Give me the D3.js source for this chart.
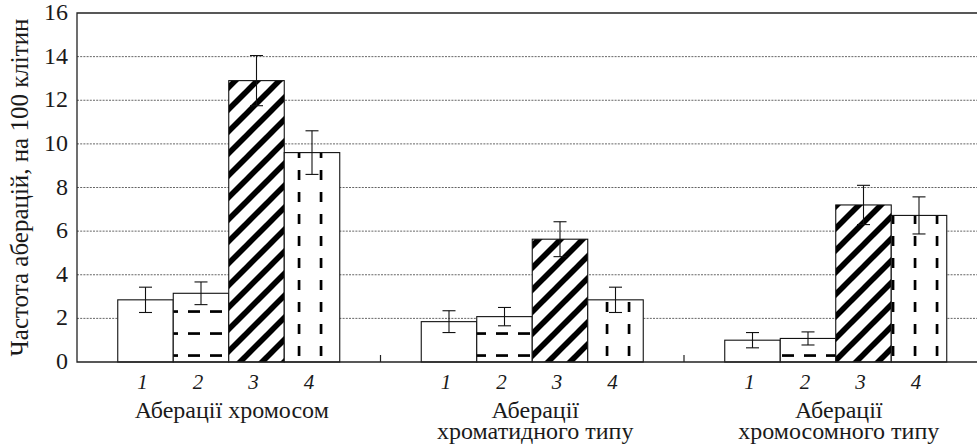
<!DOCTYPE html>
<html>
<head>
<meta charset="utf-8">
<script src="https://cdn.jsdelivr.net/npm/d3@7"></script>
</head>
<body style="margin:0">
<svg id="chart" width="977" height="445"></svg>
<script>
// chart data
const groupLabels = [["Аберації хромосом"], ["Аберації", "хроматидного типу"], ["Аберації", "хромосомного типу"]];
const seriesKeys = ["1", "2", "3", "4"];
const means = [
	[2.85, 3.15, 12.9, 9.6],
	[1.85, 2.08, 5.63, 2.85],
	[1.0, 1.08, 7.2, 6.72]
];
const errors = [
	[0.58, 0.52, 1.15, 1.0],
	[0.5, 0.42, 0.8, 0.58],
	[0.35, 0.3, 0.9, 0.85]
];
const yTicks = [0, 2, 4, 6, 8, 10, 12, 14, 16];
const yTitle = "Частота аберацій, на 100 клітин";

const plotLeft = 77, plotTop = 13, plotBottom = 362, bandW = 303.5;
const ink = "#1a1a1a";
const svg = d3.select("#chart");

const y = d3.scaleLinear().domain([0, 16]).range([plotBottom, plotTop]);
const x0 = d3.scaleBand()
	.domain(d3.range(groupLabels.length))
	.range([plotLeft, plotLeft + bandW * groupLabels.length]);
const x1 = d3.scaleBand()
	.domain(seriesKeys)
	.range([40.75, bandW - 40.75]);

// fill patterns (user space, so the phase is shared by all bars)
const defs = svg.append("defs");

let pat = defs.append("pattern").attr("id", "hdash")
	.attr("patternUnits", "userSpaceOnUse")
	.attr("width", 22).attr("height", 22);
pat.append("rect").attr("x", 12).attr("y", 2.2).attr("width", 12).attr("height", 2.7).attr("fill", "#000");
pat.append("rect").attr("x", -10).attr("y", 2.2).attr("width", 12).attr("height", 2.7).attr("fill", "#000");

pat = defs.append("pattern").attr("id", "diag")
	.attr("patternUnits", "userSpaceOnUse")
	.attr("x", 8)
	.attr("width", 22).attr("height", 22);
[[-11, 11, 11, -11], [0, 22, 22, 0], [11, 33, 33, 11]].forEach(l => {
	pat.append("line")
		.attr("x1", l[0]).attr("y1", l[1]).attr("x2", l[2]).attr("y2", l[3])
		.attr("stroke", "#000").attr("stroke-width", 5.6);
});

pat = defs.append("pattern").attr("id", "vdash")
	.attr("patternUnits", "userSpaceOnUse")
	.attr("width", 22).attr("height", 22);
pat.append("rect").attr("x", 11.7).attr("y", 16).attr("width", 2.7).attr("height", 10).attr("fill", "#000");
pat.append("rect").attr("x", 11.7).attr("y", -6).attr("width", 2.7).attr("height", 10).attr("fill", "#000");

const fills = ["#fff", "url(#hdash)", "url(#diag)", "url(#vdash)"];

// dotted grid
svg.append("g")
	.selectAll("line")
	.data(yTicks.filter(d => d > 0 && d < 16))
	.join("line")
	.attr("x1", plotLeft).attr("x2", 977)
	.attr("y1", d => y(d)).attr("y2", d => y(d))
	.attr("stroke", "#666")
	.attr("stroke-width", 1)
	.attr("stroke-dasharray", "2,1.2");

// bars
svg.append("g")
	.selectAll("g")
	.data(means)
	.join("g")
	.each(function(vals, gi) {
		const g = d3.select(this);
		vals.forEach((v, si) => {
			const bx = x0(gi) + x1(seriesKeys[si]);
			g.append("rect")
				.attr("x", bx).attr("y", y(v))
				.attr("width", x1.bandwidth()).attr("height", y(0) - y(v))
				.attr("fill", "#fff");
			if (si > 0) {
				g.append("rect")
					.attr("x", bx).attr("y", y(v))
					.attr("width", x1.bandwidth()).attr("height", y(0) - y(v))
					.attr("fill", fills[si]);
			}
			g.append("rect")
				.attr("x", bx).attr("y", y(v))
				.attr("width", x1.bandwidth()).attr("height", y(0) - y(v))
				.attr("fill", "none")
				.attr("stroke", "#111")
				.attr("stroke-width", 1.1);

			// error bar
			const cx = bx + x1.bandwidth() / 2;
			const e = errors[gi][si];
			g.append("line")
				.attr("x1", cx).attr("x2", cx)
				.attr("y1", y(v + e)).attr("y2", y(v - e))
				.attr("stroke", "#111").attr("stroke-width", 1.1);
			[v + e, v - e].forEach(t => {
				g.append("line")
					.attr("x1", cx - 6.5).attr("x2", cx + 6.5)
					.attr("y1", y(t)).attr("y2", y(t))
					.attr("stroke", "#111").attr("stroke-width", 1.1);
			});
		});
	});

// frame
svg.append("path")
	.attr("d", `M977,${plotTop}H${plotLeft}V${plotBottom}H977`)
	.attr("fill", "none")
	.attr("stroke", "#222")
	.attr("stroke-width", 1.3);

// separators between groups
svg.append("g")
	.selectAll("line")
	.data(d3.range(1, groupLabels.length))
	.join("line")
	.attr("x1", d => x0(d)).attr("x2", d => x0(d))
	.attr("y1", plotBottom).attr("y2", plotBottom - 7)
	.attr("stroke", "#222").attr("stroke-width", 1.2);

// y tick labels
svg.append("g")
	.selectAll("text")
	.data(yTicks)
	.join("text")
	.attr("x", 68)
	.attr("y", d => y(d) + 7)
	.attr("text-anchor", "end")
	.attr("fill", ink)
	.style("font-family", d => `"Liberation Serif"`)
	.style("font-size", "24px")
	.text(d => d);

// y title
svg.append("text")
	.attr("transform", `translate(28,${(plotTop + plotBottom) / 2}) rotate(-90)`)
	.attr("text-anchor", "middle")
	.attr("fill", ink)
	.style("font-family", `"Liberation Serif"`)
	.style("font-size", "25px")
	.text(yTitle);

// series numbers and group names
groupLabels.forEach((lab, gi) => {
	seriesKeys.forEach(k => {
		svg.append("text")
			.attr("x", x0(gi) + x1(k) + x1.bandwidth() / 2 - 3)
			.attr("y", 389)
			.attr("text-anchor", "middle")
			.attr("fill", ink)
			.style("font-family", `"Liberation Serif"`)
			.style("font-size", "21px")
			.style("font-style", "italic")
			.text(k);
	});
	const cx = x0(gi) + bandW / 2 + 3;
	lab.forEach((line, li) => {
		svg.append("text")
			.attr("x", cx)
			.attr("y", 418 + li * 21)
			.attr("text-anchor", "middle")
			.attr("fill", ink)
			.style("font-family", `"Liberation Serif"`)
			.style("font-size", "24px")
			.text(line);
	});
});
</script>
</body>
</html>
